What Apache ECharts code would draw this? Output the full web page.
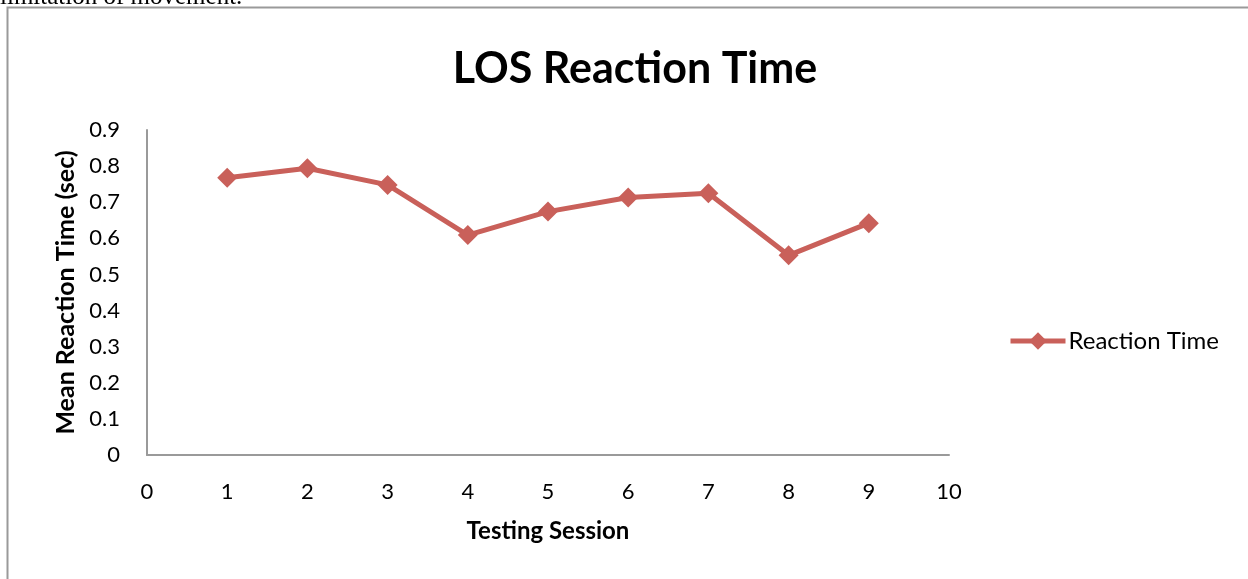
<!DOCTYPE html>
<html>
<head>
<meta charset="utf-8">
<title>LOS Reaction Time</title>
<script src="https://cdn.jsdelivr.net/npm/echarts@6/dist/echarts.min.js"></script>
<style>
  html, body { margin: 0; padding: 0; background: #fff; }
  #chart { width: 1248px; height: 579px; }
</style>
</head>
<body>
<div id="chart"></div>
<script>
// data
const sessions = [1, 2, 3, 4, 5, 6, 7, 8, 9];
const reactionTime = [0.768, 0.794, 0.748, 0.609, 0.674, 0.713, 0.725, 0.553, 0.642];
const seriesName = "Reaction Time";

const font = "Lato, 'Open Sans', sans-serif";
const lineColor = "#C9605A";
const axisColor = "#9a9a9a";

const chart = echarts.init(document.getElementById("chart"), null, { renderer: "canvas" });

chart.setOption({
  animation: false,
  backgroundColor: "#fff",
  textStyle: { fontFamily: font, color: "#000" },
  graphic: [
    // frame of the embedded chart
    {
      type: "rect",
      shape: { x: 7.5, y: 7.5, width: 1300, height: 700 },
      style: { fill: "none", stroke: axisColor, lineWidth: 2 },
      silent: true,
    },
    // cut-off line of document text above the chart
    {
      type: "text",
      x: 0,
      y: 10,
      style: {
        text: "limitation of movement.",
        font: "25px 'Liberation Serif', serif",
        fill: "#000",
        verticalAlign: "bottom",
      },
      silent: true,
    },
  ],
  title: {
    text: "LOS Reaction Time",
    left: 630,
    textAlign: "center",
    top: 43,
    textStyle: { fontFamily: font, fontSize: 43, fontWeight: "bold", color: "#000" },
  },
  legend: {
    data: [seriesName],
    left: 1003,
    top: 324,
    itemWidth: 55,
    itemHeight: 22,
    itemGap: 6,
    lineStyle: { width: 5 },
    textStyle: { fontFamily: font, fontSize: 24, color: "#000", padding: [0, 0, 0, -2] },
  },
  grid: { left: 147, top: 130, width: 802, height: 325, containLabel: false },
  xAxis: {
    type: "value",
    min: 0,
    max: 10,
    interval: 1,
    name: "Testing Session",
    nameLocation: "middle",
    nameGap: 64,
    nameTextStyle: { fontFamily: font, fontSize: 24, fontWeight: "bold", color: "#000" },
    axisLine: { lineStyle: { color: axisColor, width: 2 } },
    axisTick: { show: false },
    splitLine: { show: false },
    axisLabel: { margin: 26, fontFamily: font, fontSize: 22, color: "#000" },
  },
  yAxis: {
    type: "value",
    min: 0,
    max: 0.9,
    interval: 0.1,
    name: "Mean Reaction Time (sec)",
    nameLocation: "middle",
    nameRotate: 90,
    nameGap: 69,
    nameTextStyle: { fontFamily: font, fontSize: 25, fontWeight: "bold", color: "#000" },
    axisLine: { show: true, lineStyle: { color: axisColor, width: 2 } },
    axisTick: { show: false },
    splitLine: { show: false },
    axisLabel: { margin: 27, fontFamily: font, fontSize: 22, color: "#000" },
  },
  series: [
    {
      name: seriesName,
      type: "line",
      data: sessions.map((s, i) => [s, reactionTime[i]]),
      symbol: "diamond",
      symbolSize: 20,
      lineStyle: { color: lineColor, width: 5 },
      itemStyle: { color: lineColor },
    },
  ],
});
</script>
</body>
</html>
